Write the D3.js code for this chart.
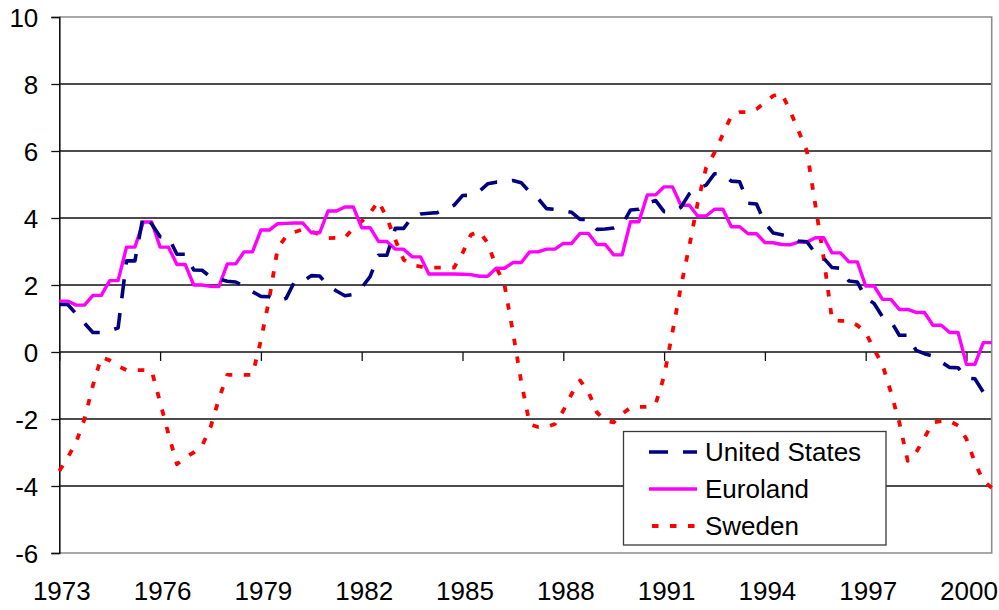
<!DOCTYPE html>
<html>
<head>
<meta charset="utf-8">
<script src="https://d3js.org/d3.v7.min.js"></script>
<style>
  body { margin: 0; background: #fff; }
  svg text { font-family: "Liberation Sans", Arial, sans-serif; fill: #000; }
</style>
</head>
<body>
<div id="chart"></div>
<script>
// quarterly observations, 1973Q1 .. 2000Q4
const years = d3.range(1973, 2001);
const quarters = years.flatMap(y => [1, 2, 3, 4].map(q => y + "Q" + q));

const tickLabels = ["1973", "1976", "1979", "1982", "1985", "1988", "1991", "1994", "1997", "2000"];
const yTicks = [-6, -4, -2, 0, 2, 4, 6, 8, 10];
const seriesNames = ["United States", "Euroland", "Sweden"];

const unitedStates = [
  1.42, 1.42, 1.14, 0.86, 0.58, 0.58, 0.63, 0.72, 2.72, 2.72, 4.08, 3.82,
  3.44, 3.43, 2.92, 2.92, 2.45, 2.44, 2.24, 2.18, 2.11, 2.09, 1.96, 1.80,
  1.66, 1.65, 1.52, 1.60, 2.10, 2.10, 2.28, 2.27, 1.98, 1.82, 1.68, 1.72,
  1.92, 2.25, 2.89, 2.89, 3.69, 3.69, 4.03, 4.12, 4.14, 4.16, 4.28, 4.38,
  4.67, 4.68, 4.80, 5.02, 5.07, 5.07, 5.12, 5.05, 4.78, 4.58, 4.28, 4.26,
  4.22, 4.17, 3.96, 3.95, 3.66, 3.67, 3.70, 3.80, 4.24, 4.26, 4.45, 4.52,
  4.19, 4.19, 4.32, 4.72, 4.88, 4.98, 5.32, 5.32, 5.10, 5.08, 4.44, 4.42,
  3.85, 3.55, 3.50, 3.45, 3.31, 3.29, 2.95, 2.80, 2.52, 2.50, 2.12, 2.09,
  1.62, 1.45, 1.05, 0.92, 0.50, 0.50, 0.05, -0.05, -0.12, -0.30, -0.46, -0.47,
  -0.78, -0.80, -1.20, null
];

const euroland = [
  1.52, 1.52, 1.40, 1.40, 1.69, 1.69, 2.13, 2.13, 3.13, 3.13, 3.88, 3.88,
  3.13, 3.13, 2.61, 2.61, 2.00, 2.00, 1.96, 1.95, 2.63, 2.63, 2.99, 2.99,
  3.64, 3.64, 3.83, 3.84, 3.85, 3.85, 3.56, 3.56, 4.21, 4.21, 4.33, 4.33,
  3.71, 3.71, 3.30, 3.30, 3.07, 3.07, 2.84, 2.84, 2.33, 2.33, 2.33, 2.33,
  2.32, 2.31, 2.26, 2.26, 2.50, 2.50, 2.67, 2.67, 2.99, 2.99, 3.07, 3.07,
  3.24, 3.24, 3.54, 3.54, 3.21, 3.21, 2.90, 2.90, 3.89, 3.89, 4.69, 4.69,
  4.93, 4.93, 4.38, 4.38, 4.06, 4.06, 4.26, 4.26, 3.74, 3.74, 3.53, 3.53,
  3.27, 3.26, 3.21, 3.20, 3.28, 3.28, 3.41, 3.41, 2.96, 2.96, 2.69, 2.69,
  1.97, 1.97, 1.57, 1.57, 1.27, 1.27, 1.18, 1.18, 0.80, 0.80, 0.58, 0.58,
  -0.37, -0.37, 0.28, 0.28
];

const sweden = [
  -3.55, -3.15, -2.70, -2.00, -1.00, -0.15, -0.25, -0.42, -0.54, -0.54, -0.54, -0.56,
  -1.50, -2.45, -3.35, -3.15, -3.00, -2.80, -2.25, -1.40, -0.68, -0.68, -0.68, -0.68,
  0.35, 1.60, 3.10, 3.45, 3.58, 3.66, 3.60, 3.50, 3.40, 3.41, 3.41, 3.70,
  3.90, 4.15, 4.50, 4.00, 3.35, 2.75, 2.60, 2.55, 2.52, 2.52, 2.52, 2.52,
  2.95, 3.50, 3.60, 3.25, 2.55, 2.00, 0.60, -0.90, -2.16, -2.24, -2.24, -2.15,
  -1.75, -1.25, -0.85, -1.20, -1.80, -2.05, -2.10, -1.85, -1.66, -1.64, -1.64, -1.55,
  -0.72, 0.60, 1.95, 3.16, 4.45, 5.50, 5.95, 6.50, 7.05, 7.16, 7.16, 7.25,
  7.45, 7.65, 7.72, 7.20, 6.60, 6.00, 4.40, 2.80, 0.95, 0.93, 0.93, 0.80,
  0.58, 0.08, -0.38, -1.20, -2.10, -3.25, -3.00, -2.56, -2.10, -2.06, -2.06, -2.20,
  -2.60, -3.30, -3.85, -4.05
];

const W = 999, H = 610;
const plot = {left: 59.3, right: 991.7, top: 17, bottom: 553};
const fontSize = "26px";

const svg = d3.select("#chart").append("svg")
  .attr("width", W)
  .attr("height", H);

svg.append("rect").attr("width", W).attr("height", H).attr("fill", "#fff");

const x = d3.scalePoint()
  .domain(quarters)
  .range([plot.left, plot.right]);

const y = d3.scaleLinear()
  .domain([-6, 10])
  .range([plot.bottom, plot.top]);

// gridlines
svg.append("g")
  .selectAll("line")
  .data(yTicks.filter(v => v > -6 && v < 10))
  .enter().append("line")
  .attr("x1", plot.left).attr("x2", plot.right)
  .attr("y1", d => y(d)).attr("y2", d => y(d))
  .attr("stroke", "#111")
  .attr("stroke-width", 1.3);

// plot border (top, right, bottom)
svg.append("path")
  .attr("d", `M${plot.left},${y(10)}H${plot.right}V${y(-6)}H${plot.left}`)
  .attr("fill", "none")
  .attr("stroke", "#8c8c8c")
  .attr("stroke-width", 1.6);

// y axis
const yAxis = svg.append("g")
  .attr("transform", `translate(${plot.left},0)`)
  .call(d3.axisLeft(y).tickValues(yTicks).tickSize(8).tickPadding(13).tickFormat(d => String(d)));
yAxis.select(".domain").attr("stroke", "#111").attr("stroke-width", 1.6);
yAxis.selectAll(".tick line").attr("stroke", "#111").attr("stroke-width", 1.3);
yAxis.selectAll("text")
  .style("font-size", fontSize)
  .style("font-family", "'Liberation Sans', Arial, sans-serif")
  .attr("fill", "#000")
  .attr("dy", "0.36em");

// x axis ticks at zero line
const tickQuarters = tickLabels.map(l => l + "Q1");
const xAxis = svg.append("g")
  .attr("transform", `translate(0,${y(0)})`)
  .call(d3.axisBottom(x).tickValues(tickQuarters).tickSize(9).tickFormat(""));
xAxis.select(".domain").remove();
xAxis.selectAll(".tick line").attr("stroke", "#111").attr("stroke-width", 1.3);

// x labels at the bottom
const xLabels = svg.append("g")
  .attr("transform", `translate(0,${plot.bottom})`)
  .call(d3.axisBottom(x).tickValues(tickQuarters).tickSize(0).tickPadding(29)
    .tickFormat(d => d.slice(0, 4)));
xLabels.select(".domain").remove();
xLabels.selectAll("text")
  .style("font-size", fontSize)
  .style("font-family", "'Liberation Sans', Arial, sans-serif")
  .attr("fill", "#000")
  .attr("dx", "2");

// series
const styles = [
  {name: seriesNames[0], values: unitedStates, color: "#000080", dash: "19,15", width: 3.6},
  {name: seriesNames[1], values: euroland, color: "#ff00ff", dash: null, width: 3.4},
  {name: seriesNames[2], values: sweden, color: "#ff0000", dash: "6.5,11.5", width: 3.8}
];

const line = d3.line()
  .defined(d => d.v != null)
  .x(d => x(d.q))
  .y(d => y(d.v));

// draw order: Sweden at the back, Euroland, US on top
[styles[2], styles[1], styles[0]].forEach(s => {
  svg.append("path")
    .datum(s.values.map((v, i) => ({q: quarters[i], v: v})))
    .attr("d", line)
    .attr("fill", "none")
    .attr("stroke", s.color)
    .attr("stroke-width", s.width)
    .attr("stroke-dasharray", s.dash)
    .attr("stroke-linejoin", "round");
});

// legend
const legend = svg.append("g");
legend.append("rect")
  .attr("x", 623.5).attr("y", 431.5)
  .attr("width", 262.5).attr("height", 113.5)
  .attr("fill", "#fff")
  .attr("stroke", "#3a3a3a")
  .attr("stroke-width", 1.3);

const rows = legend.selectAll(".row")
  .data(styles)
  .enter().append("g")
  .attr("class", "row")
  .attr("transform", (d, i) => `translate(0,${452 + i * 37})`);

rows.append("line")
  .attr("x1", 649).attr("x2", 697)
  .attr("stroke", d => d.color)
  .attr("stroke-width", d => d.width)
  .attr("stroke-dasharray", d => d.dash)
  .attr("stroke-dashoffset", (d, i) => i === 2 ? -3 : 0);

rows.append("text")
  .attr("x", 705)
  .attr("dy", "0.36em")
  .style("font-size", fontSize)
  .text(d => d.name);
</script>
</body>
</html>
